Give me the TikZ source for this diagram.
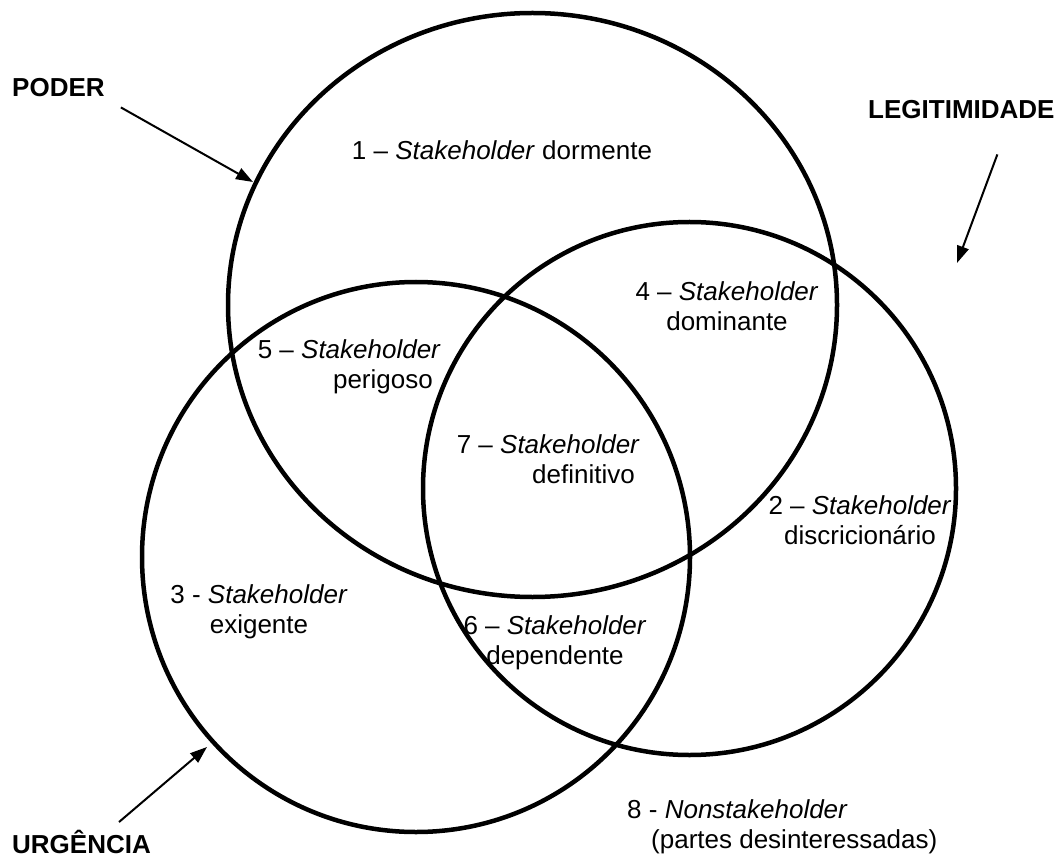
\documentclass[tikz,border=0pt]{standalone}
\usepackage{fontspec}
\setmainfont{Liberation Sans}
\usetikzlibrary{arrows.meta}
\tikzset{grosso/.style={line width=4.5pt}}
\newcommand{\anel}[3]{\draw[grosso] (#1) ellipse (#2 and #3)}

\begin{document}
\begin{tikzpicture}[x=1pt,y=-1pt,
	rotulo/.style={inner sep=0pt,align=center,font=\fontsize{26}{30.5}\selectfont},
	titulo/.style={inner sep=0pt,anchor=west,font=\fontsize{26}{30.5}\selectfont\bfseries},
	seta/.style={line width=2pt,-{Triangle[length=17pt,width=12pt]}}]
	\useasboundingbox (0,0) rectangle (1057,858);
	\anel{532.5,305}{304.5pt}{292pt};
	\anel{689.5,488.5}{266.5pt}{266.5pt};
	\anel{416,557}{274pt}{275pt};
	\node[titulo] (poder) at (12,88) {PODER};
	\node[titulo] (legitimidade) at (868,110) {LEGITIMIDADE};
	\node[titulo] (urgencia) at (12,842) {URGÊNCIA};
	\coordinate (pontaPoder) at (253,182);
	\coordinate (pontaLegit) at (957,263);
	\coordinate (pontaUrg) at (207,747);
	\draw[seta] ([shift={(16,10)}]poder.south east) -- (pontaPoder);
	\draw[seta] ([shift={(36,35)}]legitimidade.south) -- (pontaLegit);
	\draw[seta] ([shift={(107,-8)}]urgencia.north west) -- (pontaUrg);
	\node[rotulo] (dormente) at (502,150) {1 – \textit{Stakeholder} dormente};
	\node[rotulo] (discricionario) at (860,520) {2 – \textit{Stakeholder}\\discricionário};
	\node[rotulo] (exigente) at (259,612) {3 - \textit{Stakeholder}\\exigente};
	\node[rotulo] (dominante) at (727,306) {4 – \textit{Stakeholder}\\dominante};
	\node[rotulo,align=right,anchor=east] (perigoso) at (441,367) {5 – \textit{Stakeholder}\\perigoso\hspace*{8pt}};
	\node[rotulo] (dependente) at (555,643) {6 – \textit{Stakeholder}\\dependente};
	\node[rotulo,align=right,anchor=east] (definitivo) at (640,459) {7 – \textit{Stakeholder}\\definitivo\hspace*{5pt}};
	\node[rotulo,align=left,anchor=west] (nonstake) at (627,827) {8 - \textit{Nonstakeholder}\\\hspace*{24pt}(partes desinteressadas)};
\end{tikzpicture}
\end{document}
